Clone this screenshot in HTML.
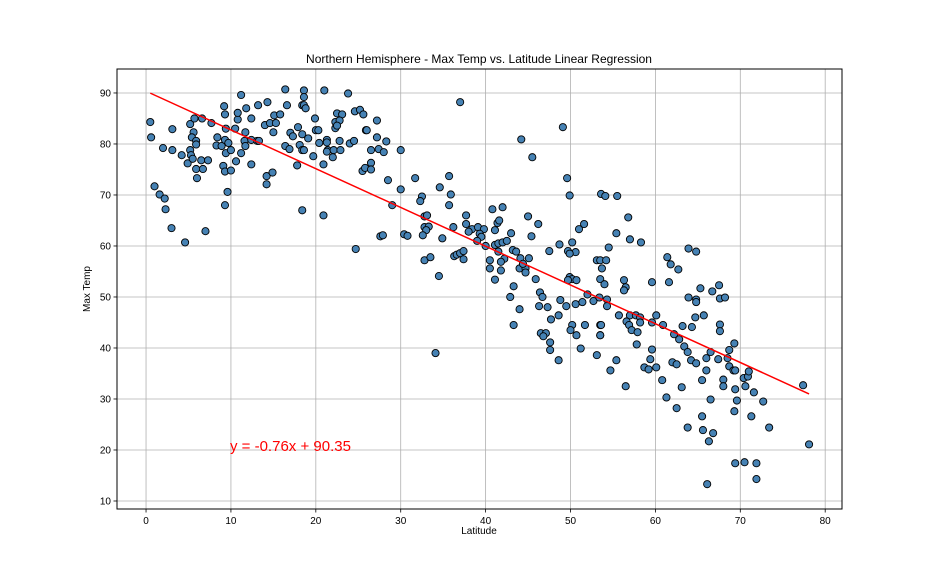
<!DOCTYPE html>
<html><head><meta charset="utf-8"><style>
html,body{margin:0;padding:0;background:#fff;}
svg{display:block;font-family:"Liberation Sans","DejaVu Sans",sans-serif;}
</style></head><body>
<svg id="chart" width="936" height="576" viewBox="0 0 936 576">
<rect width="936" height="576" fill="#fff"/>
<g id="grid"></g>
<g id="line"></g>
<g id="pts"></g>
<rect x="117" y="69" width="725" height="440" fill="none" stroke="#000" stroke-width="1"/>
<g id="xt"></g>
<g id="yt"></g>
<text x="479" y="63" text-anchor="middle" font-size="12">Northern Hemisphere - Max Temp vs. Latitude Linear Regression</text>
<text x="479" y="534" text-anchor="middle" font-size="10">Latitude</text>
<text x="90" y="289" text-anchor="middle" font-size="10" transform="rotate(-90 90 289)">Max Temp</text>
<text x="230" y="451" font-size="15" fill="#ff0000">y = -0.76x + 90.35</text>
</svg>
<script>
const xTicks=[0,10,20,30,40,50,60,70,80];
const yTicks=[10,20,30,40,50,60,70,80,90];
const regression=[-0.76,90.35];
const lat=[0.5,0.6,1,1.6,2.2,2.3,3,4.6,7,2,3.1,3.1,4.2,4.9,5.2,5.6,5.4,5.9,5.9,5.7,6.6,5.2,5.3,5.5,6.5,7.3,5.9,6.7,6,7.7,8.4,8.3,8.9,9.2,9.3,9.4,9.3,9.7,9.4,10,9.1,9.3,10,9.6,9.3,11.2,10.8,10.8,10.5,11.8,12.4,11.7,11.6,11.7,11.2,10.6,12.4,12.4,13.1,13.3,13.2,14.3,14,14.6,15.3,15,15.1,15.8,14.2,14.9,14.2,16.4,16.6,17,17.3,17.9,16.4,16.9,17.8,18.4,18.6,18.8,18.6,18.6,18.4,19.1,18.1,18.4,18.6,19.7,18.4,19.9,20,20.3,20.4,20.9,20.9,21,21.3,21.3,21.4,21.3,22.1,22,22.9,22.5,23.1,22.3,22.8,22.3,22.5,22.8,24,24.5,23.8,24.6,25.2,25.6,25.9,25.5,25.8,24.7,
27.2,26,27.2,28.3,26.5,27.4,28,30,26.5,26.5,28.5,30,31.7,34.6,35.7,35.9,35.7,37,32.5,32.3,29,32.8,33.1,32.8,33.3,33,32.6,30.4,30.8,27.6,27.9,34.9,32.8,33.5,34.5,36.2,37.7,37.7,38.4,38,39.1,39.8,39.3,39.5,39,36.3,36.6,37,37.4,37.4,40,40.8,42,41.4,41.6,41.1,43,41.1,41.5,42,42.5,41.5,40.5,40.5,41.8,41.1,42.2,41.8,43.2,43.6,43.3,44.2,45.5,45,46.2,45.4,44.1,45.1,44,44.7,44.7,44.4,45.9,47.5,48.7,49.1,49.6,49.9,50.2,49.7,50.6,49.9,51,51.6,49.9,50.2,50.7,49.7,
34.1,42.9,44,43.3,46.4,46.7,46.3,47.3,47.7,48.6,48.8,49.5,50.6,51.4,52.7,52,46.5,47.1,46.8,47.6,47.6,48.6,50.2,50,50.7,51.7,51.2,53.5,53.5,53.1,
53.6,54.1,55.5,56.8,55.4,57,58.3,54.5,53.1,53.5,54.2,53.7,53.5,54,56.3,56.5,56.3,59.6,61.4,61.8,62.7,63.9,64.8,61.6,65.3,66.7,67.5,63.9,64.8,64.8,67.6,68.2,53.4,54.3,54.3,55.7,57,57.7,58.2,58.2,53.6,53.5,56.6,56.9,57.2,57.9,57.8,59.6,60.1,60.9,59.6,62.2,62.8,63.2,64.3,64.7,65.7,63.4,63.8,67.6,67.6,69.3,68.7,66.5,
55.4,54.7,56.5,59.4,58.7,59.2,60.1,60.8,61.3,62,62.5,63.1,62.5,64.2,64.8,66,66,65.5,66.5,65.5,63.8,65.6,66.8,66.3,66.1,67.4,68.5,68.7,69.2,69.4,68,68,69.4,69.6,69.3,70.4,70.9,71,70.6,71.6,72.7,71.3,73.4,69.4,70.5,71.9,71.9,77.4,78.1];
const maxTemp=[84.3,81.3,71.7,70.1,69.3,67.2,63.5,60.7,62.9,79.2,82.9,78.8,77.8,76.2,83.9,82.3,81.3,80.6,79.9,85,85,78.8,77.8,77.1,76.8,76.8,75.1,75.1,73.3,84.1,81.3,79.7,79.6,87.4,85.8,83,80.8,80.2,78.2,78.8,75.7,74.6,74.8,70.6,68,89.6,84.8,86.1,83,87,85,82.3,80.6,79.6,78.2,76.6,76,80.8,80.6,80.6,87.6,88.2,83.7,84.1,84.1,82.3,85.6,85.8,73.7,74.4,72.1,90.7,87.6,82.2,81.5,83.3,79.6,79,75.8,87.6,87.6,87,90.5,89.2,81.9,81.1,79.8,78.8,78.8,77.6,67,85,82.7,82.7,80.2,76,66,90.5,80.8,80.3,78.8,78.5,78.8,77.4,78.8,86,85.8,84.3,84.6,83.1,83.6,80.6,80.1,80.6,89.9,86.4,86.7,85.8,82.7,74.7,75.3,59.4,
84.6,82.7,81.3,80.5,78.8,79,78.4,78.8,76.3,75,72.9,71.1,73.3,71.5,73.7,70.1,68,88.2,69.7,68.8,68,65.8,66,63.7,63.8,63.1,62.1,62.3,62,61.9,62.1,61.5,57.2,57.8,54.1,63.7,66,64.3,63.3,62.8,63.7,63.3,62.4,61.8,61,58,58.3,58.6,59,57.4,60,67.2,67.6,64.5,65,63.1,62.5,60.2,60.5,60.7,61,58.9,57.2,55.6,55.2,53.4,57.5,56.9,59.2,58.9,52.1,80.9,77.4,65.8,64.3,61.9,57.6,57.6,55.6,55.6,54.8,56.5,53.5,59,60.3,83.3,73.3,69.9,60.7,59,58.8,58.5,63.3,64.3,53.9,53.5,53.3,53.3,
39,50,47.6,44.5,50.9,50,48.2,48,45.6,46.4,49.4,48.2,48.6,49,49.2,50.5,42.9,42.9,42.3,41.1,39.6,37.6,44.5,43.5,42.5,44.5,39.9,44.5,42.5,38.6,
70.2,69.8,69.8,65.6,62.5,61.3,60.7,59.7,57.2,57.2,57.2,55.6,53.5,52.5,53.3,51.9,51.3,52.9,57.8,56.4,55.4,59.5,58.9,52.9,51.7,51.1,52.3,49.9,49.5,49,49.7,49.9,49.9,49.5,48.2,46.4,46.4,46.4,46,45,44.5,42.5,45.2,44.5,43.5,43.1,40.7,45,46.4,44.5,39.7,42.7,41.7,44.3,44.1,46,46.4,40.3,39.2,44.6,43.3,40.9,39.6,39.2,
37.6,35.6,32.5,37.8,36.2,35.8,36.2,33.7,30.3,37.2,36.8,32.3,28.2,37.6,37,38,35.6,33.7,29.9,26.6,24.4,23.9,23.3,21.7,13.3,37.8,38,36.4,35.6,35.6,33.8,32.5,31.9,29.7,27.6,34.1,34.4,35.4,32.5,31.3,29.5,26.6,24.4,17.4,17.6,17.4,14.3,32.7,21.1];

const L=117,R=842,T=69,B=509;
const X0=-3.42,X1=81.98,Y0=8.43,Y1=94.7;
const sx=v=>L+(v-X0)/(X1-X0)*(R-L);
const sy=v=>B-(v-Y0)/(Y1-Y0)*(B-T);
const NS='http://www.w3.org/2000/svg';
function mk(tag,attrs,parent){const e=document.createElementNS(NS,tag);for(const k in attrs)e.setAttribute(k,attrs[k]);parent.appendChild(e);return e;}
const grid=document.getElementById('grid'),xt=document.getElementById('xt'),yt=document.getElementById('yt');
xTicks.forEach(t=>{const x=sx(t);
 const g=mk('line',{x1:x,x2:x,y1:T,y2:B,stroke:'#b0b0b0','stroke-width':0.8},grid);
 
 
 const tk=mk('line',{x1:x,x2:x,y1:B,y2:B+3.5,stroke:'#000','stroke-width':0.8},xt);
 
 
 const tx=mk('text',{x:x,y:B+15,'text-anchor':'middle','font-size':10},xt);tx.textContent=t;
 
 
});
yTicks.forEach(t=>{const y=sy(t);
 const g=mk('line',{x1:L,x2:R,y1:y,y2:y,stroke:'#b0b0b0','stroke-width':0.8},grid);
 
 
 const tk=mk('line',{x1:L-3.5,x2:L,y1:y,y2:y,stroke:'#000','stroke-width':0.8},yt);
 
 
 const tx=mk('text',{x:L-6,y:y+3.5,'text-anchor':'end','font-size':10},yt);tx.textContent=t;
 
 
});
const pts=document.getElementById('pts');
for(let i=0;i<lat.length;i++){
 const c=mk('circle',{cx:sx(lat[i]),cy:sy(maxTemp[i]),r:3.6,fill:'#4682b4',stroke:'#000','stroke-width':0.9},pts);
 
 
}
const mn=Math.min(...lat),mx=Math.max(...lat);
const rl=mk('line',{x1:sx(mn),y1:sy(regression[0]*mn+regression[1]),x2:sx(mx),y2:sy(regression[0]*mx+regression[1]),stroke:'#ff0000','stroke-width':1.5},document.getElementById('line'));


document.getElementById('chart').appendChild(document.getElementById('line'));
</script>
</body></html>
